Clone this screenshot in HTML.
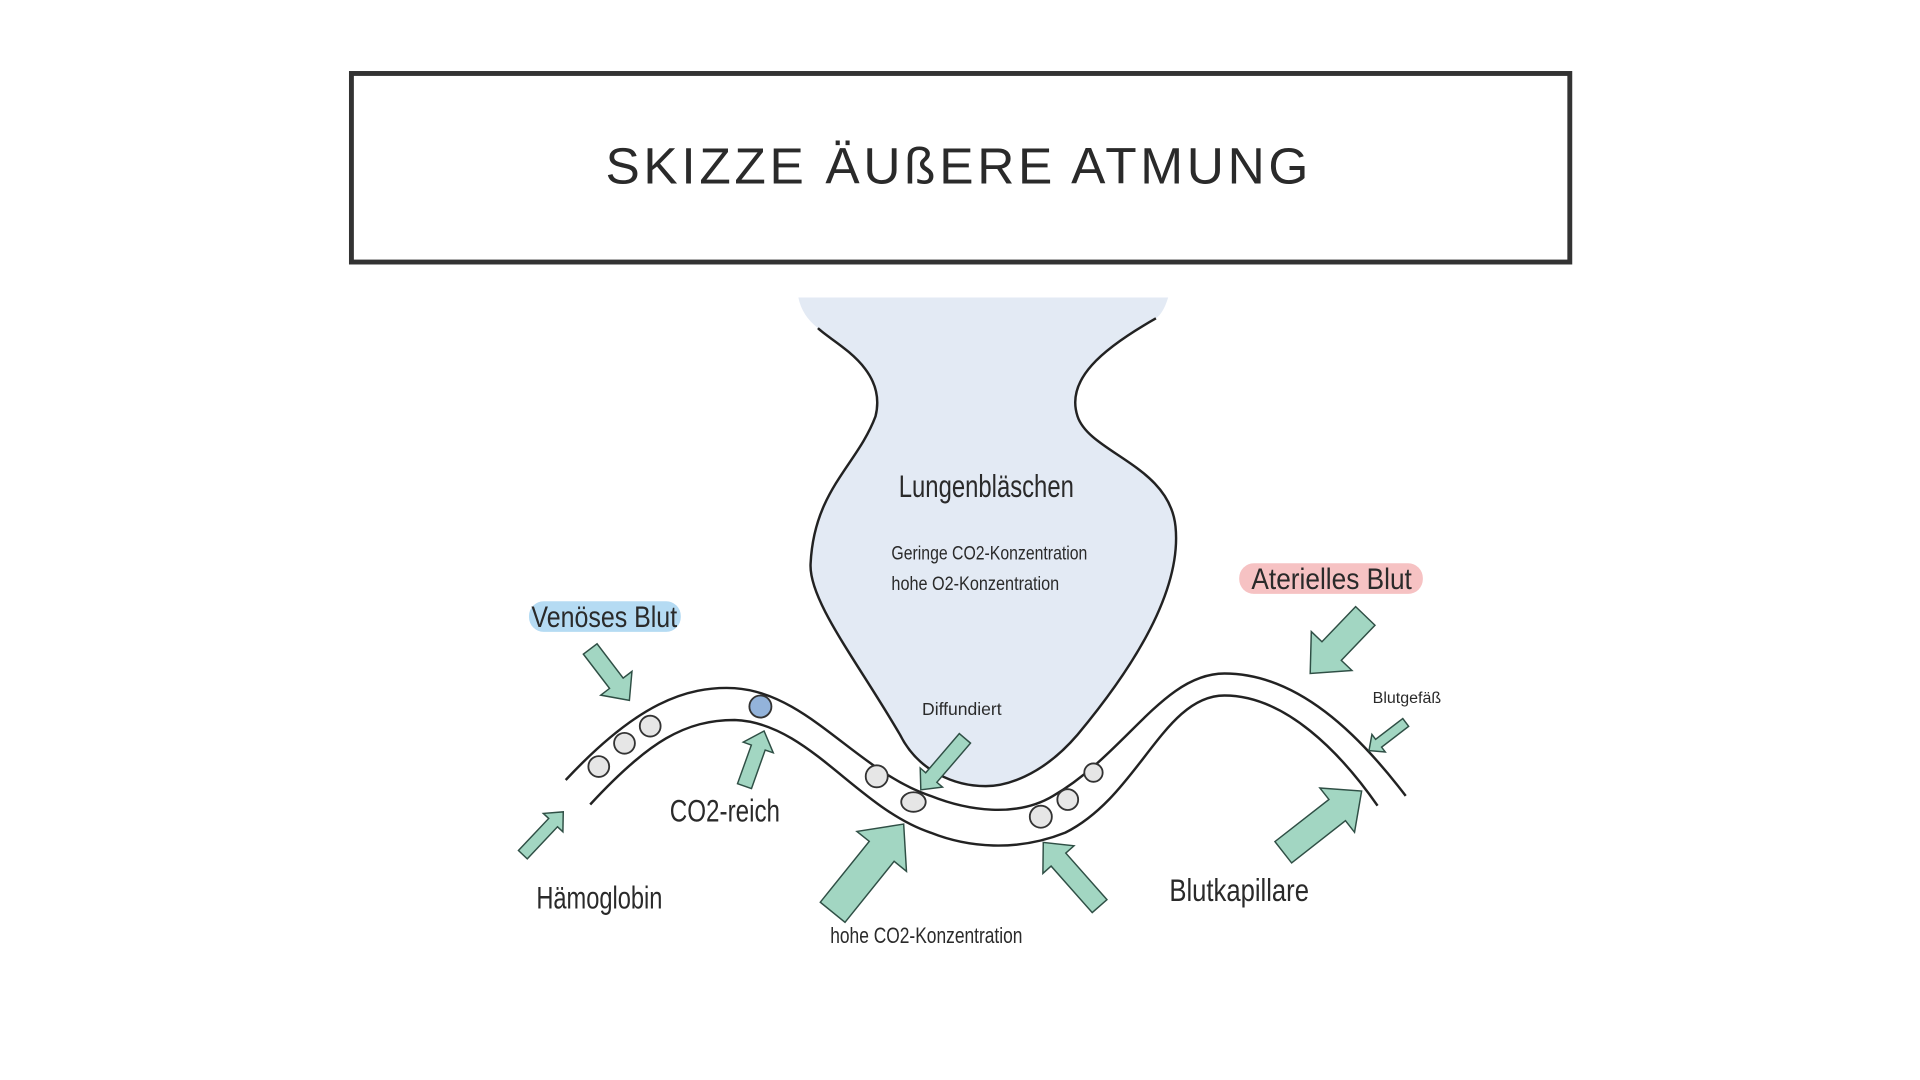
<!DOCTYPE html>
<html><head><meta charset="utf-8"><style>
html,body{margin:0;padding:0;background:#fff;width:1920px;height:1080px;overflow:hidden}
svg{display:block}
text{font-family:"Liberation Sans",sans-serif;fill:#2a2a2a}
</style></head><body>
<svg id="s" width="1920" height="1080" viewBox="0 0 1568 882" xmlns="http://www.w3.org/2000/svg">
<rect x="287" y="60" width="995" height="154" fill="#fff" stroke="#333" stroke-width="4"/>
<text x="783" y="150" text-anchor="middle" font-size="42" letter-spacing="3" fill="#333">SKIZZE ÄUßERE ATMUNG</text>

<path d="M652,243 L954,243 Q950,256 944,260 C900,285 870,310 880,340 C890,370 955,380 960,430 C965,480 930,540 880,600 C850,635 820,642 805,642 C780,642 750,630 735,600 C700,540 660,490 662,460 C665,400 700,380 715,340 C725,300 680,280 668,268 Q655,258 652,243 Z" fill="#e3eaf4"/>
<path d="M668,268 C680,280 725,300 715,340 C700,380 665,400 662,460 C660,490 700,540 735,600 C750,630 780,642 805,642 C820,642 850,635 880,600 C930,540 965,480 960,430 C955,380 890,370 880,340 C870,310 900,285 944,260" fill="none" stroke="#222" stroke-width="2"/>

<path d="M462,637 C520,575 560,560 600,562 C660,566 700,630 760,650 C790,662 830,668 860,650 C920,615 950,550 1000,550 C1060,550 1110,600 1148,650" fill="none" stroke="#222" stroke-width="2"/>
<path d="M482,657 C530,605 560,588 600,588 C660,590 700,660 760,680 C790,692 830,696 870,680 C930,650 950,568 1000,568 C1050,568 1095,615 1125,658" fill="none" stroke="#222" stroke-width="2"/>

<g fill="#e6e6e6" stroke="#333" stroke-width="1.5">
<circle cx="489" cy="626" r="8.5"/><circle cx="510" cy="607" r="8.5"/><circle cx="531" cy="593" r="8.5"/>
<circle cx="716" cy="634" r="9"/><ellipse cx="746" cy="655" rx="10" ry="8"/>
<circle cx="850" cy="667" r="9"/><circle cx="872" cy="653" r="8.5"/><circle cx="893" cy="631" r="7.5"/>
<circle cx="621" cy="577" r="9" fill="#93b3da"/>
</g>

<g id="arrows" fill="#a2d6c2" stroke="#2f4f45" stroke-width="1.2"></g>

<rect x="432" y="491" width="124" height="25" rx="12" fill="#b5dbf3"/>
<rect x="1012" y="460" width="150" height="25" rx="12" fill="#f6c2c3"/>

<text x="734" y="406" font-size="26" textLength="143" lengthAdjust="spacingAndGlyphs">Lungenbläschen</text>
<text x="728" y="457" font-size="16" textLength="160" lengthAdjust="spacingAndGlyphs" fill="#444">Geringe CO2-Konzentration</text>
<text x="728" y="482" font-size="16" textLength="137" lengthAdjust="spacingAndGlyphs" fill="#444">hohe O2-Konzentration</text>
<text x="434" y="512" font-size="24" textLength="119" lengthAdjust="spacingAndGlyphs">Venöses Blut</text>
<text x="1022" y="481" font-size="24" textLength="131" lengthAdjust="spacingAndGlyphs">Aterielles Blut</text>
<text x="753" y="584" font-size="14" textLength="65" lengthAdjust="spacingAndGlyphs" fill="#444">Diffundiert</text>
<text x="1121" y="574" font-size="13" textLength="56" lengthAdjust="spacingAndGlyphs" fill="#444">Blutgefäß</text>
<text x="547" y="671" font-size="26" textLength="90" lengthAdjust="spacingAndGlyphs">CO2-reich</text>
<text x="438" y="742" font-size="26" textLength="103" lengthAdjust="spacingAndGlyphs">Hämoglobin</text>
<text x="678" y="770" font-size="18" textLength="157" lengthAdjust="spacingAndGlyphs" fill="#444">hohe CO2-Konzentration</text>
<text x="955" y="736" font-size="26" textLength="114" lengthAdjust="spacingAndGlyphs">Blutkapillare</text>
</svg>
<script>
var A=[[482,530,514,572,14,32],[427,698,460,663,10,22],[608,642,624,597,12,26],[680,745,738,673,26,52],[898,740,852,688,16,34],[1048,696,1112,646,22,46],[1115,503,1070,550,22,46],[1148,590,1118,613,8,18],[788,603,752,645,12,24]];
var g=document.getElementById('arrows');
A.forEach(function(a){var x1=a[0],y1=a[1],x2=a[2],y2=a[3],sw=a[4]/2,hw=a[5]/2;
var dx=x2-x1,dy=y2-y1,L=Math.hypot(dx,dy),ux=dx/L,uy=dy/L,px=-uy,py=ux,hl=Math.min(hw*1.1,L*0.55);
var bx=x2-ux*hl,by=y2-uy*hl;
var p=[[x1+px*sw,y1+py*sw],[bx+px*sw,by+py*sw],[bx+px*hw,by+py*hw],[x2,y2],[bx-px*hw,by-py*hw],[bx-px*sw,by-py*sw],[x1-px*sw,y1-py*sw]];
var e=document.createElementNS('http://www.w3.org/2000/svg','polygon');
e.setAttribute('points',p.map(function(q){return q[0].toFixed(1)+','+q[1].toFixed(1)}).join(' '));g.appendChild(e);});
</script>
</body></html>
